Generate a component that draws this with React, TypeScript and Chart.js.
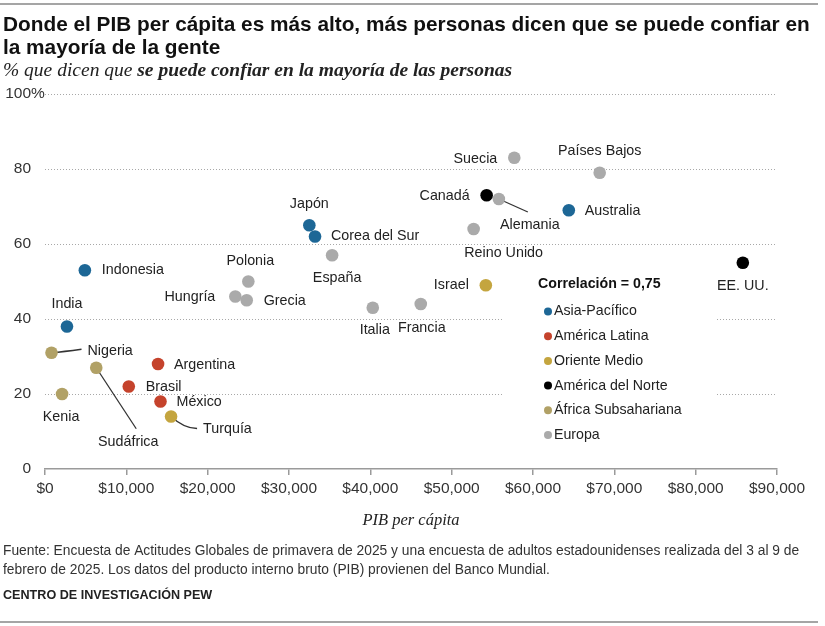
import React, { useEffect, useRef } from "react";
import { Chart, registerables } from "chart.js";

Chart.register(...registerables);

// ---- data ----
const countries = [
  "Indonesia", "Japón", "Corea del Sur", "India", "Australia",
  "Argentina", "Brasil", "México",
  "Israel", "Turquía",
  "Canadá", "EE. UU.",
  "Nigeria", "Kenia", "Sudáfrica",
  "Suecia", "Países Bajos", "Alemania", "Reino Unido", "España",
  "Polonia", "Hungría", "Grecia", "Italia", "Francia",
];
const gdpPerCapita = [
  4900, 32500, 33200, 2700, 64400,
  13900, 10300, 14200,
  54200, 15500,
  54300, 85800,
  800, 2100, 6300,
  57700, 68200, 55800, 52700, 35300,
  25000, 23400, 24800, 40300, 46200,
];
const trustShare = [
  53, 65, 62, 38, 69,
  28, 22, 18,
  49, 14,
  73, 55,
  31, 20, 27,
  83, 79, 72, 64, 57,
  50, 46, 45, 43, 44,
];
const countryRegion = [
  0, 0, 0, 0, 0,
  1, 1, 1,
  2, 2,
  3, 3,
  4, 4, 4,
  5, 5, 5, 5, 5,
  5, 5, 5, 5, 5,
];
const regionNames = [
  "Asia-Pacífico",
  "América Latina",
  "Oriente Medio",
  "América del Norte",
  "África Subsahariana",
  "Europa",
];
const regionColors = ["#1d6796", "#c5432c", "#c4a53f", "#000000", "#b1a166", "#aaaaaa"];
const yTickValues = [0, 20, 40, 60, 80, 100];
const xTickStep = 10000;
const correlationText = "Correlación = 0,75";

const titleLines = [
  "Donde el PIB per cápita es más alto, más personas dicen que se puede confiar en",
  "la mayoría de la gente",
];
const subtitleLead = "% que dicen que ";
const subtitleBold = "se puede confiar en la mayoría de las personas";
const xAxisTitle = "PIB per cápita";
const sourceLines = [
  "Fuente: Encuesta de Actitudes Globales de primavera de 2025 y una encuesta de adultos estadounidenses realizada del 3 al 9 de",
  "febrero de 2025. Los datos del producto interno bruto (PIB) provienen del Banco Mundial.",
];
const creditLine = "CENTRO DE INVESTIGACIÓN PEW";

// ---- styling ----
const SANS = '"Liberation Sans", Arial, sans-serif';
const SERIF = '"Liberation Serif", "Times New Roman", serif';
const TEXT = "#222222";

type Placement = {
  dx: number;
  dy: number;
  align: CanvasTextAlign;
  leader?: [number, number];
  bend?: [number, number];
};

// label offsets from each dot (px)
const placements: Record<string, Placement> = {
  "Indonesia": { dx: 17, dy: 0, align: "left" },
  "Japón": { dx: 0, dy: -21, align: "center" },
  "Corea del Sur": { dx: 16, dy: 0, align: "left" },
  "India": { dx: 0, dy: -22, align: "center" },
  "Australia": { dx: 16, dy: 1, align: "left" },
  "Argentina": { dx: 16, dy: 1, align: "left" },
  "Brasil": { dx: 17, dy: 1, align: "left" },
  "México": { dx: 16, dy: 1, align: "left" },
  "Israel": { dx: -17, dy: 0, align: "right" },
  "Turquía": { dx: 32, dy: 13, align: "left", leader: [26, 12], bend: [13, 12] },
  "Canadá": { dx: -17, dy: 1, align: "right" },
  "EE. UU.": { dx: 0, dy: 23, align: "center" },
  "Nigeria": { dx: 36, dy: -2, align: "left", leader: [30, -3.5], bend: [12, -1] },
  "Kenia": { dx: -1, dy: 23, align: "center" },
  "Sudáfrica": { dx: 32, dy: 74, align: "center", leader: [40, 61] },
  "Suecia": { dx: -17, dy: 1, align: "right" },
  "Países Bajos": { dx: 0, dy: -22, align: "center" },
  "Alemania": { dx: 31, dy: 26, align: "center", leader: [29, 13] },
  "Reino Unido": { dx: 30, dy: 24, align: "center" },
  "España": { dx: 5, dy: 23, align: "center" },
  "Polonia": { dx: 2, dy: -20, align: "center" },
  "Hungría": { dx: -20, dy: 0.5, align: "right" },
  "Grecia": { dx: 17, dy: 1, align: "left" },
  "Italia": { dx: 2, dy: 22, align: "center" },
  "Francia": { dx: 1, dy: 24, align: "center" },
};

const LEGEND = { left: 538, top: 284, rowGap: 24.7, firstRow: 27.5, dotX: 548, textX: 554 };
const LEGEND_BOX = { x: 502, y: 268, w: 213, h: 182 };

const formatDollars = (v: number) => "$" + v.toLocaleString("en-US");

const pagePlugin = {
  id: "pageText",
  beforeDatasetsDraw(chart: Chart) {
    const ctx = chart.ctx;
    ctx.save();
    // keep gridlines out from behind the legend
    ctx.fillStyle = "#ffffff";
    ctx.fillRect(LEGEND_BOX.x, LEGEND_BOX.y, LEGEND_BOX.w, LEGEND_BOX.h);
    // leader lines
    ctx.strokeStyle = "#333333";
    ctx.lineWidth = 1.3;
    chart.data.datasets.forEach((ds: any, di: number) => {
      const meta = chart.getDatasetMeta(di);
      meta.data.forEach((pt: any, i: number) => {
        const name = ds.names[i];
        const p = placements[name];
        if (!p || !p.leader) return;
        ctx.beginPath();
        ctx.moveTo(pt.x, pt.y);
        if (p.bend) {
          ctx.quadraticCurveTo(pt.x + p.bend[0], pt.y + p.bend[1], pt.x + p.leader[0], pt.y + p.leader[1]);
        } else {
          ctx.lineTo(pt.x + p.leader[0], pt.y + p.leader[1]);
        }
        ctx.stroke();
      });
    });
    ctx.restore();
  },
  afterDatasetsDraw(chart: Chart) {
    const ctx = chart.ctx;
    ctx.save();
    // point labels
    ctx.font = `14.3px ${SANS}`;
    ctx.fillStyle = TEXT;
    ctx.textBaseline = "middle";
    chart.data.datasets.forEach((ds: any, di: number) => {
      const meta = chart.getDatasetMeta(di);
      meta.data.forEach((pt: any, i: number) => {
        const name = ds.names[i];
        const p = placements[name] || { dx: 10, dy: 0, align: "left" as CanvasTextAlign };
        ctx.textAlign = p.align;
        ctx.fillText(name, pt.x + p.dx, pt.y + p.dy);
      });
    });

    // y tick labels, with the % hanging past the number column
    const yScale = chart.scales.y;
    ctx.font = `15.5px ${SANS}`;
    ctx.fillStyle = "#333333";
    yTickValues.forEach((v) => {
      const y = yScale.getPixelForValue(v);
      ctx.textAlign = "right";
      ctx.fillText(String(v), 31, y);
      if (v === 100) {
        ctx.textAlign = "left";
        ctx.fillText("%", 31, y);
      }
    });

    // x tick labels
    const xScale = chart.scales.x;
    ctx.textAlign = "center";
    xScale.ticks.forEach((t: any) => {
      ctx.fillText(formatDollars(t.value), xScale.getPixelForValue(t.value), chart.chartArea.bottom + 20);
    });

    // legend
    ctx.textAlign = "left";
    ctx.fillStyle = "#111111";
    ctx.font = `bold 14.2px ${SANS}`;
    ctx.fillText(correlationText, LEGEND.left, LEGEND.top);
    ctx.font = `14.2px ${SANS}`;
    regionNames.forEach((r, i) => {
      const y = LEGEND.top + LEGEND.firstRow + i * LEGEND.rowGap;
      ctx.fillStyle = regionColors[i];
      ctx.beginPath();
      ctx.arc(LEGEND.dotX, y, 4, 0, Math.PI * 2);
      ctx.fill();
      ctx.fillStyle = TEXT;
      ctx.fillText(r, LEGEND.textX, y);
    });
    ctx.restore();
  },
  afterDraw(chart: Chart) {
    const ctx = chart.ctx;
    const area = chart.chartArea;
    ctx.save();
    // top and bottom rules
    ctx.fillStyle = "#a5a5a5";
    ctx.fillRect(0, 3, 818, 2);
    ctx.fillRect(0, 621, 818, 2);

    // title
    ctx.fillStyle = "#111111";
    ctx.textAlign = "left";
    ctx.textBaseline = "alphabetic";
    ctx.font = `bold 20.8px ${SANS}`;
    ctx.fillText(titleLines[0], 3, 31);
    ctx.fillText(titleLines[1], 3, 54);

    // subtitle
    ctx.font = `italic 19.5px ${SERIF}`;
    ctx.fillStyle = "#222222";
    ctx.fillText(subtitleLead, 3, 76);
    const leadW = ctx.measureText(subtitleLead).width;
    ctx.font = `italic bold 19.5px ${SERIF}`;
    ctx.fillText(subtitleBold, 3 + leadW, 76);

    // x axis title
    ctx.font = `italic 16.5px ${SERIF}`;
    ctx.textAlign = "center";
    ctx.fillText(xAxisTitle, (area.left + area.right) / 2, 525);

    // source and credit
    ctx.textAlign = "left";
    ctx.fillStyle = "#333333";
    ctx.font = `13.8px ${SANS}`;
    ctx.fillText(sourceLines[0], 3, 555);
    ctx.fillText(sourceLines[1], 3, 574);
    ctx.font = `bold 12.6px ${SANS}`;
    ctx.fillStyle = "#222222";
    ctx.fillText(creditLine, 3, 599);
    ctx.restore();
  },
};

export default function App() {
  const canvasRef = useRef<HTMLCanvasElement | null>(null);

  useEffect(() => {
    const canvas = canvasRef.current;
    if (!canvas) return;

    const datasets = regionNames.map((region, r) => {
      const idx = countries.map((_, i) => i).filter((i) => countryRegion[i] === r);
      return {
        label: region,
        names: idx.map((i) => countries[i]),
        data: idx.map((i) => ({ x: gdpPerCapita[i], y: trustShare[i] })),
        backgroundColor: regionColors[r],
        borderWidth: 0,
        pointRadius: 6.3,
        pointHoverRadius: 6.3,
      };
    });

    const chart = new Chart(canvas, {
      type: "scatter",
      data: { datasets: datasets as any },
      options: {
        animation: false,
        responsive: false,
        devicePixelRatio: 1,
        layout: { padding: { left: 45, right: 48, top: 94, bottom: 157 } },
        plugins: {
          legend: { display: false },
          tooltip: { enabled: false },
          title: { display: false },
        },
        scales: {
          x: {
            type: "linear",
            min: 0,
            max: 90000,
            afterFit: (s: any) => {
              s.height = 0;
            },
            ticks: { display: false, stepSize: xTickStep, autoSkip: false, maxRotation: 0 },
            grid: {
              drawOnChartArea: false,
              drawTicks: true,
              tickLength: 6,
              color: "#9a9a9a",
              lineWidth: 1.5,
            },
            border: { display: true, color: "#9a9a9a", width: 1.5 },
          },
          y: {
            type: "linear",
            min: 0,
            max: 100,
            afterFit: (s: any) => {
              s.width = 0;
            },
            ticks: { display: false, stepSize: 20 },
            grid: {
              drawTicks: false,
              color: (c: any) => (c.tick && c.tick.value === 0 ? "rgba(0,0,0,0)" : "#a8a8a8"),
              lineWidth: 1,
            },
            border: { display: false, dash: [1, 2] },
          },
        },
      },
      plugins: [pagePlugin],
    });

    return () => chart.destroy();
  }, []);

  return (
    <div style={{ position: "absolute", left: 0, top: 0, width: 825, height: 626, background: "#ffffff" }}>
      <canvas ref={canvasRef} width={825} height={626} style={{ display: "block" }} />
    </div>
  );
}
